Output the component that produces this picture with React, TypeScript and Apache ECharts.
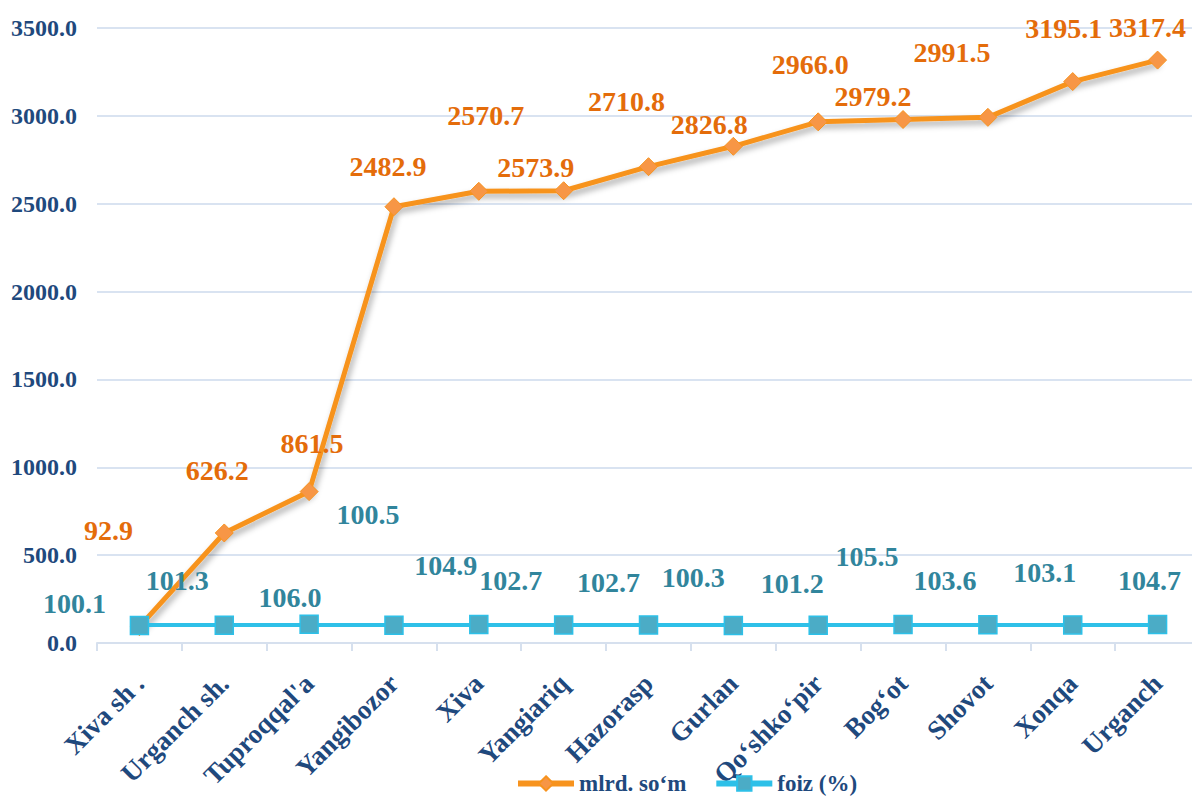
import React, { useEffect, useRef } from "react";
import * as echarts from "echarts";

const categories = [
  "Xiva sh .", "Urganch sh.", "Tuproqqal'a", "Yangibozor", "Xiva", "Yangiariq",
  "Hazorasp", "Gurlan", "Qo‘shko‘pir", "Bog‘ot", "Shovot", "Xonqa", "Urganch",
];
const mlrdSom = [92.9, 626.2, 861.5, 2482.9, 2570.7, 2573.9, 2710.8, 2826.8, 2966.0, 2979.2, 2991.5, 3195.1, 3317.4];
const foiz = [100.1, 101.3, 106.0, 100.5, 104.9, 102.7, 102.7, 100.3, 101.2, 105.5, 103.6, 103.1, 104.7];
const yTicks = [0, 500, 1000, 1500, 2000, 2500, 3000, 3500];

// label centre offsets (dx, dy) from each point, as placed in the reference
const mlrdLabelOffsets = [
  [-31, -96], [-7, -62], [3, -48], [-6, -40], [7, -76], [-28, -23],
  [-22, -65], [-24, -22], [-8, -57], [-30, -23], [-36, -65], [-9, -53], [-10, -33],
];
const foizLabelOffsets = [
  [-65, -22], [-47, -45], [-19, -27], [-26, -111], [-33, -59], [-53, -44],
  [-40, -42], [-40, -48], [-26, -42], [-36, -68], [-43, -44], [-28, -52], [-8, -44],
];

const serif = "'Liberation Serif', 'Times New Roman', serif";
const axisBlue = "#1F497D";

export default function App() {
  const ref = useRef<HTMLDivElement>(null);
  useEffect(() => {
    if (!ref.current) return;
    const chart = echarts.init(ref.current, undefined, { renderer: "svg" });
    const shadow = {
      shadowColor: "rgba(0,0,0,0.35)",
      shadowBlur: 6,
      shadowOffsetX: 2,
      shadowOffsetY: 4,
    };
    const labelBase = {
      show: true,
      position: "inside",
      fontFamily: serif,
      fontWeight: "bold",
      fontSize: 28,
      formatter: (p: any) => Number(p.value).toFixed(1),
    };
    chart.setOption({
      animation: false,
      backgroundColor: "#ffffff",
      grid: { left: 97, right: 0, top: 28, bottom: 157 },
      legend: {
        bottom: 0,
        left: 510,
        itemWidth: 56,
        itemHeight: 18,
        itemGap: 27,
        textStyle: { fontFamily: serif, fontWeight: "bold", fontSize: 23, color: axisBlue },
        data: [
          { name: "mlrd. so‘m", lineStyle: { width: 6, shadowBlur: 0 } },
          { name: "foiz (%)", lineStyle: { width: 6, shadowBlur: 0 } },
        ],
      },
      xAxis: {
        type: "category",
        data: categories,
        boundaryGap: true,
        axisLine: { lineStyle: { color: "#D6E0EE", width: 2 } },
        axisTick: { show: true, length: 8, lineStyle: { color: "#D6E0EE", width: 2 } },
        axisLabel: {
          rotate: 45,
          interval: 0,
          margin: 36,
          fontFamily: serif,
          fontWeight: "bold",
          fontSize: 27,
          color: axisBlue,
        },
      },
      yAxis: {
        type: "value",
        min: yTicks[0],
        max: yTicks[yTicks.length - 1],
        interval: 500,
        axisLine: { show: false },
        axisTick: { show: false },
        splitLine: { lineStyle: { color: "#D9E3F1", width: 2 } },
        axisLabel: {
          margin: 20,
          fontFamily: serif,
          fontWeight: "bold",
          fontSize: 24,
          color: axisBlue,
          formatter: (v: number) => v.toFixed(1),
        },
      },
      series: [
        {
          name: "mlrd. so‘m",
          type: "line",
          data: mlrdSom.map((v, i) => ({ value: v, label: { offset: mlrdLabelOffsets[i] } })),
          symbol: "diamond",
          symbolSize: 18,
          lineStyle: { color: "#F7931E", width: 5, ...shadow },
          itemStyle: { color: "#F79646", borderColor: "#F7931E", borderWidth: 1 },
          label: { ...labelBase, color: "#E46C0A" },
          z: 2,
        },
        {
          name: "foiz (%)",
          type: "line",
          data: foiz.map((v, i) => ({ value: v, label: { offset: foizLabelOffsets[i] } })),
          symbol: "rect",
          symbolSize: 18,
          lineStyle: { color: "#2DC0E8", width: 5, ...shadow },
          itemStyle: { color: "#4BACC6", borderColor: "#2DC0E8", borderWidth: 1.5 },
          label: { ...labelBase, color: "#31859C" },
          z: 3,
        },
      ],
    });
    return () => chart.dispose();
  }, []);
  return (
    <div style={{ position: "fixed", left: 0, top: 0, width: 1192, height: 800, overflow: "hidden" }}>
      <div ref={ref} style={{ position: "absolute", left: 0, top: 0, width: 1200, height: 800 }} />
    </div>
  );
}
